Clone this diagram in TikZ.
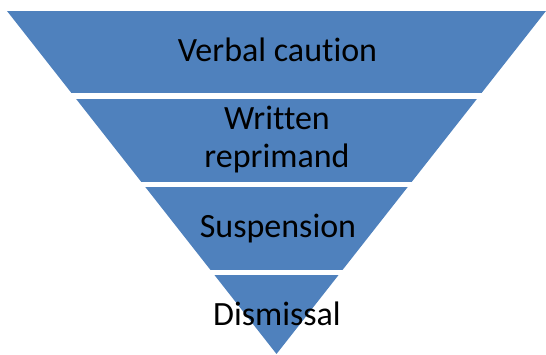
\documentclass[tikz,border=0pt]{standalone}
\usepackage{fontspec}
\setmainfont{Carlito}[RawFeature={-liga}]
\definecolor{bandblue}{HTML}{4F81BD}
\begin{document}
\begin{tikzpicture}[x=1pt,y=1pt,
  lbl/.style={anchor=base,text=black,font=\fontsize{34}{38}\selectfont,inner sep=0pt,align=center}]
\useasboundingbox (0,0) rectangle (546,354);
\begin{scope}
  \clip (7,343) -- (546,343) -- (276.5,0) -- cycle;
  \fill[bandblue] (0,261) rectangle (546,343);
  \fill[bandblue] (0,172) rectangle (546,255);
  \fill[bandblue] (0,84) rectangle (546,167);
  \fill[bandblue] (0,0) rectangle (546,79);
\end{scope}
\node[lbl] (verbal) at (277.5,292) {Verbal caution};
\node[lbl] (written) at (277,224) {Written};
\node[lbl] (reprimand) at (277,186) {reprimand};
\node[lbl] (susp) at (278,117) {Suspension};
\node[lbl] (dism) at (277,29) {Dismissal};
\end{tikzpicture}
\end{document}
